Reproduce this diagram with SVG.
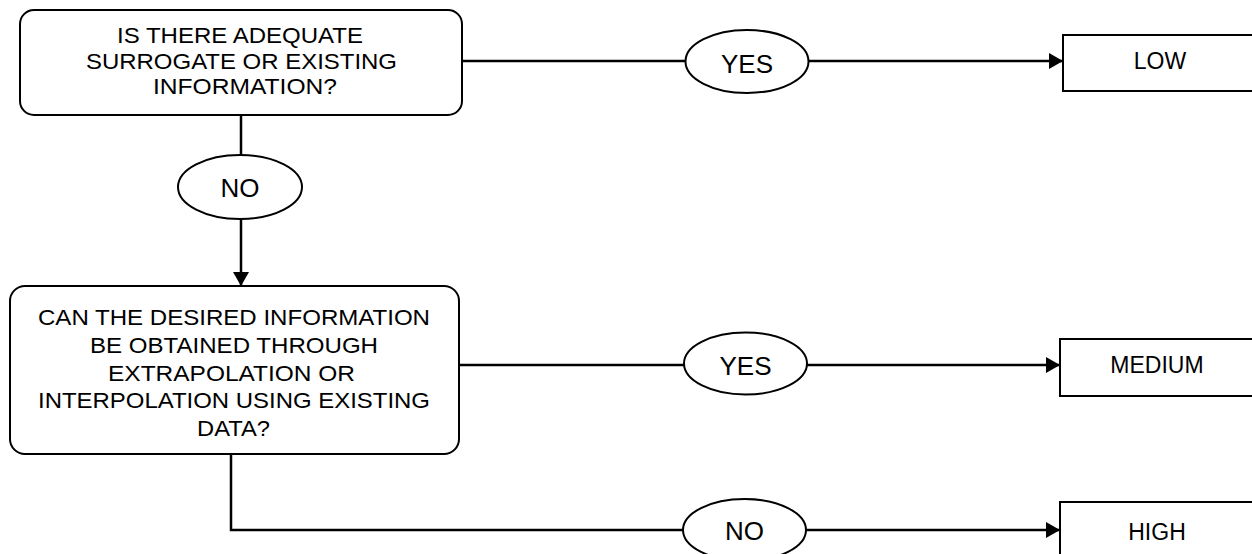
<svg xmlns="http://www.w3.org/2000/svg" width="1252" height="554" viewBox="0 0 1252 554">
  <defs>
    <marker id="arrow" markerUnits="userSpaceOnUse" markerWidth="14" markerHeight="16" refX="14" refY="8" orient="auto">
      <path d="M0,0 L14,8 L0,16 Z" fill="#000"/>
    </marker>
    <style>
      .shape { fill: #fff; stroke: #000; stroke-width: 2; }
      .wire { fill: none; stroke: #000; stroke-width: 2.5; }
      .box-text { font-family: "Liberation Sans", Arial, sans-serif; font-size: 22px; fill: #000; text-anchor: middle; }
      .label { font-family: "Liberation Sans", Arial, sans-serif; font-size: 26px; fill: #000; text-anchor: middle; }
      .out { font-family: "Liberation Sans", Arial, sans-serif; font-size: 23px; fill: #000; text-anchor: middle; }
    </style>
  </defs>
  <rect width="1252" height="554" fill="#fff"/>

  <!-- connectors -->
  <g id="connectors">
    <line class="wire" x1="462" y1="61" x2="686" y2="61"/>
    <line class="wire" x1="809" y1="61" x2="1063" y2="61" marker-end="url(#arrow)"/>
    <line class="wire" x1="241" y1="115" x2="241" y2="155"/>
    <line class="wire" x1="241" y1="219" x2="241" y2="286" marker-end="url(#arrow)"/>
    <line class="wire" x1="459" y1="365" x2="684" y2="365"/>
    <line class="wire" x1="807" y1="365" x2="1060" y2="365" marker-end="url(#arrow)"/>
    <polyline class="wire" points="231,454 231,530 683,530"/>
    <line class="wire" x1="806" y1="530" x2="1060" y2="530" marker-end="url(#arrow)"/>
  </g>

  <!-- question 1 -->
  <g id="q1">
    <rect class="shape" x="20" y="10" width="442" height="105" rx="14"/>
    <text class="box-text" x="240" y="43" textLength="246" lengthAdjust="spacingAndGlyphs">IS THERE ADEQUATE</text>
    <text class="box-text" x="241.5" y="68.5" textLength="311" lengthAdjust="spacingAndGlyphs">SURROGATE OR EXISTING</text>
    <text class="box-text" x="245" y="94" textLength="184" lengthAdjust="spacingAndGlyphs">INFORMATION?</text>
  </g>

  <g id="yes1">
    <ellipse class="shape" cx="747" cy="61.5" rx="61.5" ry="31.5"/>
    <text class="label" x="747" y="73">YES</text>
  </g>

  <g id="low">
    <rect class="shape" x="1063" y="35" width="200" height="56"/>
    <text class="out" x="1160" y="69">LOW</text>
  </g>

  <g id="no1">
    <ellipse class="shape" cx="240" cy="187" rx="62" ry="32"/>
    <text class="label" x="240" y="197">NO</text>
  </g>

  <!-- question 2 -->
  <g id="q2">
    <rect class="shape" x="10" y="286" width="449" height="168" rx="15"/>
    <text class="box-text" x="234" y="325" textLength="392" lengthAdjust="spacingAndGlyphs">CAN THE DESIRED INFORMATION</text>
    <text class="box-text" x="234" y="352.5" textLength="288" lengthAdjust="spacingAndGlyphs">BE OBTAINED THROUGH</text>
    <text class="box-text" x="231.5" y="380.5" textLength="247" lengthAdjust="spacingAndGlyphs">EXTRAPOLATION OR</text>
    <text class="box-text" x="234" y="408" textLength="392" lengthAdjust="spacingAndGlyphs">INTERPOLATION USING EXISTING</text>
    <text class="box-text" x="233.5" y="436" textLength="73" lengthAdjust="spacingAndGlyphs">DATA?</text>
  </g>

  <g id="yes2">
    <ellipse class="shape" cx="745.5" cy="363.5" rx="61.5" ry="31"/>
    <text class="label" x="745.5" y="375">YES</text>
  </g>

  <g id="medium">
    <rect class="shape" x="1060" y="339" width="200" height="57"/>
    <text class="out" x="1157" y="373">MEDIUM</text>
  </g>

  <g id="no2">
    <ellipse class="shape" cx="744.5" cy="530" rx="61.5" ry="31"/>
    <text class="label" x="744.5" y="540">NO</text>
  </g>

  <g id="high">
    <rect class="shape" x="1060" y="502" width="200" height="70"/>
    <text class="out" x="1157" y="540">HIGH</text>
  </g>
</svg>
